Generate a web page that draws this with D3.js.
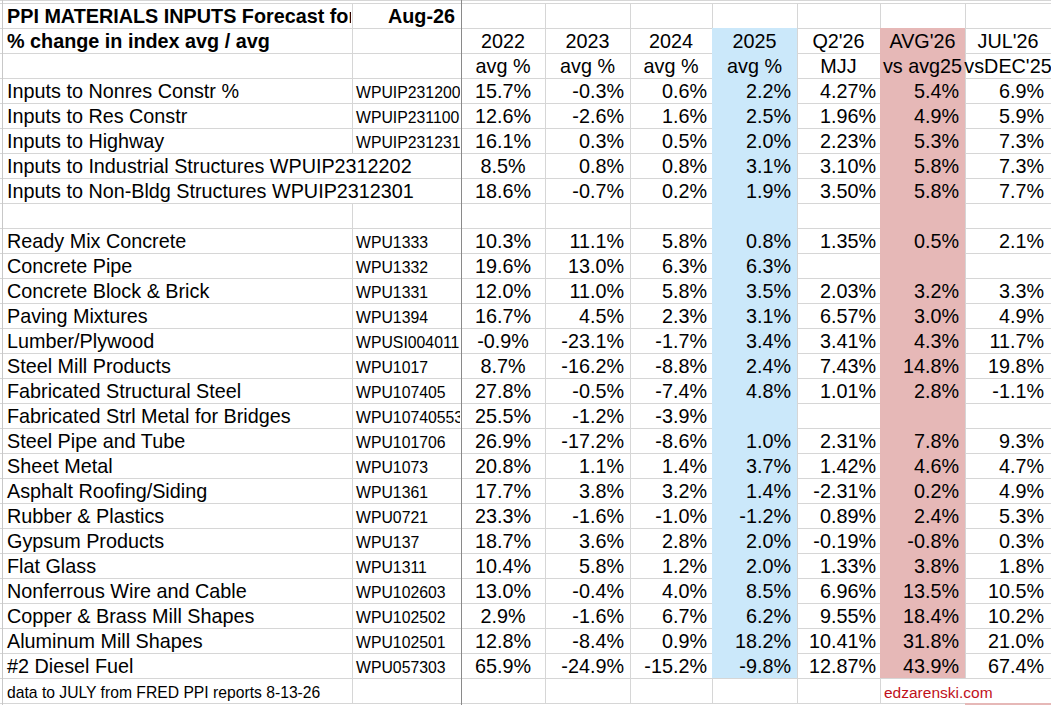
<!DOCTYPE html>
<html><head><meta charset="utf-8">
<script src="https://cdn.jsdelivr.net/npm/d3@7"></script>
<style>html,body{margin:0;padding:0;background:#fff;overflow:hidden}</style>
</head><body>
<svg id="chart" width="1051" height="705"></svg>
<script>
// ---------------- DATA ----------------
const titleText = "PPI MATERIALS INPUTS Forecast for";
const subtitleText = "% change in index avg / avg";
const forecastMonth = "Aug-26";
const headerTop = ["2022", "2023", "2024", "2025", "Q2'26", "AVG'26", "JUL'26"];
const headerSub = ["avg %", "avg %", "avg %", "avg %", "MJJ", "vs avg25", "vsDEC'25"];

const categories = [
  "Inputs to Nonres Constr %", "Inputs to Res Constr", "Inputs to Highway",
  "Inputs to Industrial Structures WPUIP2312202", "Inputs to Non-Bldg Structures WPUIP2312301",
  "",
  "Ready Mix Concrete", "Concrete Pipe", "Concrete Block & Brick", "Paving Mixtures",
  "Lumber/Plywood", "Steel Mill Products", "Fabricated Structural Steel",
  "Fabricated Strl Metal for Bridges", "Steel Pipe and Tube", "Sheet Metal",
  "Asphalt Roofing/Siding", "Rubber & Plastics", "Gypsum Products", "Flat Glass",
  "Nonferrous Wire and Cable", "Copper & Brass Mill Shapes", "Aluminum Mill Shapes",
  "#2 Diesel Fuel"
];
const seriesCodes = [
  "WPUIP231200", "WPUIP231100", "WPUIP231231", "", "",
  "",
  "WPU1333", "WPU1332", "WPU1331", "WPU1394", "WPUSI004011", "WPU1017", "WPU107405",
  "WPU10740553", "WPU101706", "WPU1073", "WPU1361", "WPU0721", "WPU137", "WPU1311",
  "WPU102603", "WPU102502", "WPU102501", "WPU057303"
];
const avg2022 = [15.7, 12.6, 16.1, 8.5, 18.6, null,
  10.3, 19.6, 12.0, 16.7, -0.9, 8.7, 27.8, 25.5, 26.9, 20.8, 17.7, 23.3, 18.7, 10.4, 13.0, 2.9, 12.8, 65.9];
const avg2023 = [-0.3, -2.6, 0.3, 0.8, -0.7, null,
  11.1, 13.0, 11.0, 4.5, -23.1, -16.2, -0.5, -1.2, -17.2, 1.1, 3.8, -1.6, 3.6, 5.8, -0.4, -1.6, -8.4, -24.9];
const avg2024 = [0.6, 1.6, 0.5, 0.8, 0.2, null,
  5.8, 6.3, 5.8, 2.3, -1.7, -8.8, -7.4, -3.9, -8.6, 1.4, 3.2, -1.0, 2.8, 1.2, 4.0, 6.7, 0.9, -15.2];
const avg2025 = [2.2, 2.5, 2.0, 3.1, 1.9, null,
  0.8, 6.3, 3.5, 3.1, 3.4, 2.4, 4.8, null, 1.0, 3.7, 1.4, -1.2, 2.0, 2.0, 8.5, 6.2, 18.2, -9.8];
const q2mjj26 = [4.27, 1.96, 2.23, 3.10, 3.50, null,
  1.35, null, 2.03, 6.57, 3.41, 7.43, 1.01, null, 2.31, 1.42, -2.31, 0.89, -0.19, 1.33, 6.96, 9.55, 10.41, 12.87];
const avg26vs25 = [5.4, 4.9, 5.3, 5.8, 5.8, null,
  0.5, null, 3.2, 3.0, 4.3, 14.8, 2.8, null, 7.8, 4.6, 0.2, 2.4, -0.8, 3.8, 13.5, 18.4, 31.8, 43.9];
const jul26vsDec25 = [6.9, 5.9, 7.3, 7.3, 7.7, null,
  2.1, null, 3.3, 4.9, 11.7, 19.8, -1.1, null, 9.3, 4.7, 4.9, 5.3, 0.3, 1.8, 10.5, 10.2, 21.0, 67.4];
const seriesList = [avg2022, avg2023, avg2024, avg2025, q2mjj26, avg26vs25, jul26vsDec25];
const seriesDecimals = [1, 1, 1, 1, 2, 1, 1];

const footNote = "data to JULY from FRED PPI reports 8-13-26";
const siteCredit = "edzarenski.com";

// ---------------- LAYOUT ----------------
const W = 1051, H = 705;
const FONT = "'Liberation Sans', Arial, sans-serif";
const MAIN_SIZE = 19.8;
const nRows = 3 + categories.length + 1;         // title, header rows, data, footer
const y = d3.scaleBand().domain(d3.range(nRows)).range([3, 3 + nRows * 25]).padding(0);
const colKeys = ["label", "code", "c0", "c1", "c2", "c3", "c4", "c5", "c6", "end"];
const xEdge = d3.scaleOrdinal().domain(colKeys).range([3, 352, 461, 545, 630, 712, 797, 880, 965, 1051]);
const valueCols = ["c0", "c1", "c2", "c3", "c4", "c5", "c6"];
const nextKey = k => colKeys[colKeys.indexOf(k) + 1];
const baseY = r => y(r) + y.bandwidth() - 5;
const dataRow = i => 3 + i;
const footRow = nRows - 1;

const svg = d3.select("#chart");
svg.append("rect").attr("width", W).attr("height", H).attr("fill", "#fff");

const defs = svg.append("defs");
defs.append("clipPath").attr("id", "clipA").append("rect")
  .attr("x", 0).attr("y", 0).attr("width", xEdge("code") - 1).attr("height", y(1));
defs.append("clipPath").attr("id", "clipB").append("rect")
  .attr("x", xEdge("code")).attr("y", 0).attr("width", xEdge("c0") - xEdge("code") - 1).attr("height", H);

const gridG = svg.append("g");
const fillG = svg.append("g");
const textG = svg.append("g");

// shaded columns
const shadeTop = y(1), shadeBottom = y(dataRow(categories.length - 1)) + y.bandwidth();
fillG.append("rect").attr("x", xEdge("c3")).attr("y", shadeTop)
  .attr("width", xEdge("c4") - xEdge("c3")).attr("height", shadeBottom - shadeTop).attr("fill", "#cbe8fa");
fillG.append("rect").attr("x", xEdge("c5")).attr("y", shadeTop)
  .attr("width", xEdge("c6") - xEdge("c5")).attr("height", shadeBottom - shadeTop).attr("fill", "#e6b8b7");
fillG.append("rect").attr("x", xEdge("c6")).attr("y", y(footRow) + y.bandwidth())
  .attr("width", xEdge("end") - xEdge("c6")).attr("height", 3).attr("fill", "#e6b8b7");

// ---------------- TEXT ----------------
const txt = (row, x, s, opts = {}) => textG.append("text")
  .attr("x", x).attr("y", baseY(row))
  .attr("font-family", FONT)
  .attr("font-size", opts.size || MAIN_SIZE)
  .attr("font-weight", opts.bold ? "bold" : "normal")
  .attr("text-anchor", opts.anchor || "start")
  .attr("fill", opts.color || "#000")
  .attr("clip-path", opts.clip || null)
  .attr("data-row", row)
  .text(s);

txt(0, 7, titleText, {bold: true, clip: "url(#clipA)"});
txt(0, xEdge("c0") - 6, forecastMonth, {bold: true, anchor: "end"});
txt(1, 7, subtitleText, {bold: true});

valueCols.forEach((k, j) => {
  const cx = (xEdge(k) + xEdge(nextKey(k))) / 2;
  txt(1, cx, headerTop[j], {anchor: "middle"});
  txt(2, cx, headerSub[j], {anchor: "middle"});
});

const rightPad = [0, 6, 5, 6, 4, 6, 7];
categories.forEach((c, i) => {
  const r = dataRow(i);
  if (c) txt(r, 7, c);
  if (seriesCodes[i]) txt(r, xEdge("code") + 4, seriesCodes[i], {size: 15.8, clip: "url(#clipB)"});
  seriesList.forEach((s, j) => {
    const v = s[i];
    if (v === null || v === undefined) return;
    const k = valueCols[j];
    const label = v.toFixed(seriesDecimals[j]) + "%";
    if (j === 0) txt(r, (xEdge(k) + xEdge(nextKey(k))) / 2, label, {anchor: "middle"});
    else txt(r, xEdge(nextKey(k)) - rightPad[j], label, {anchor: "end"});
  });
});

txt(footRow, 7, footNote, {size: 15.7});
txt(footRow, xEdge("c5") + 4, siteCredit, {size: 15.5, color: "#c0101a"});

// ---------------- GRIDLINES ----------------
for (let r = 0; r <= nRows; r++) {
  const yy = (r < nRows ? y(r) : y(nRows - 1) + y.bandwidth()) + 0.5;
  gridG.append("line").attr("x1", 0).attr("x2", W).attr("y1", yy).attr("y2", yy)
    .attr("stroke", "#d6d6d6").attr("stroke-width", 1);
}
// vertical gridlines per row, hidden where text overflows across the edge
const textBoxes = [];
textG.selectAll("text").each(function() {
  if (this.getAttribute("clip-path")) return;
  const b = this.getBBox();
  textBoxes.push({row: +this.getAttribute("data-row"), x0: b.x, x1: b.x + b.width});
});
["code", "c1", "c2", "c3", "c4", "c5", "c6"].forEach(k => {
  const ex = xEdge(k);
  for (let r = 0; r < nRows; r++) {
    const crossed = textBoxes.some(t => t.row === r && t.x0 < ex - 1 && t.x1 > ex + 1);
    if (crossed) continue;
    gridG.append("line").attr("x1", ex + 0.5).attr("x2", ex + 0.5)
      .attr("y1", y(r)).attr("y2", y(r) + y.bandwidth())
      .attr("stroke", "#d6d6d6");
  }
});
gridG.append("line").attr("x1", 0).attr("x2", W).attr("y1", 0.5).attr("y2", 0.5).attr("stroke", "#d6d6d6");
gridG.append("line").attr("x1", 2.5).attr("x2", 2.5).attr("y1", 0).attr("y2", H).attr("stroke", "#c8c8c8");
svg.append("line").attr("x1", xEdge("c0") + 0.5).attr("x2", xEdge("c0") + 0.5)
  .attr("y1", 0).attr("y2", H).attr("stroke", "#8a8a8a");
</script>
</body></html>
